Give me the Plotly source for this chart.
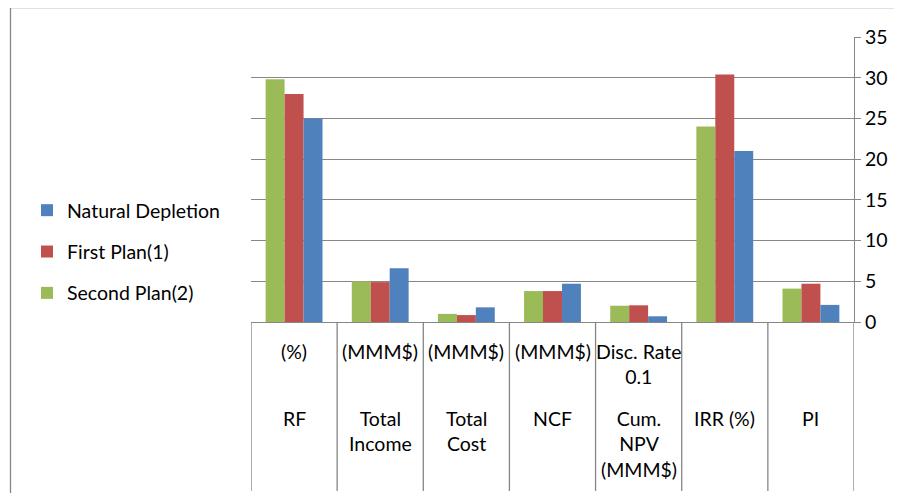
import plotly.graph_objects as go

categories = ["RF", "Total Income", "Total Cost", "NCF", "Cum. NPV", "IRR (%)", "PI"]
top_labels = ["(%)", "(MMM$)", "(MMM$)", "(MMM$)", "Disc. Rate<br>0.1", "", ""]
bottom_labels = ["RF", "Total<br>Income", "Total<br>Cost", "NCF", "Cum.<br>NPV<br>(MMM$)", "IRR (%)", "PI"]

second_plan = [29.8, 5.0, 1.0, 3.8, 2.0, 24.0, 4.1]
first_plan = [28.0, 4.9, 0.85, 3.8, 2.05, 30.4, 4.7]
natural = [25.0, 6.6, 1.8, 4.7, 0.7, 21.0, 2.1]

series = [
    ("Second Plan(2)", second_plan, "#9BBB59", 3),
    ("First Plan(1)", first_plan, "#C0504D", 2),
    ("Natural Depletion", natural, "#4F81BD", 1),
]

FONT = "Lato"
FS = 19.5
GRID = "#868686"

fig = go.Figure()
for i, (name, vals, col, rank) in enumerate(series):
    fig.add_trace(go.Bar(
        x=categories, y=vals, name=name,
        marker=dict(color=col, line=dict(width=0)),
        legendgroup="g%d" % i, legendrank=rank,
    ))

OFF = 8  # page body margin
W, H = 902, 493
SX0, SX1, SY0, SY1 = 251, 854, 37, 322
L = SX0 - OFF
R = W - (SX1 - OFF)
T = SY0 - OFF
B = H - (SY1 - OFF)
pw = W - L - R
ph = H - T - B

def px2x(px):
    return (px - OFF - L) / pw

def py2y(py):
    return (H - B - (py - OFF)) / ph

annotations = []
for i, (t, b) in enumerate(zip(top_labels, bottom_labels)):
    if t:
        annotations.append(dict(x=i, y=py2y(338), xref="x", yref="paper", text=t,
                                showarrow=False, yanchor="top", xanchor="center",
                                font=dict(family=FONT, size=FS, color="#000")))
    annotations.append(dict(x=i, y=py2y(405), xref="x", yref="paper", text=b,
                            showarrow=False, yanchor="top", xanchor="center",
                            font=dict(family=FONT, size=FS, color="#000")))

shapes = []
for i in range(len(categories) + 1):
    shapes.append(dict(type="line", xref="x", yref="paper", x0=i - 0.5, x1=i - 0.5,
                       y0=0, y1=py2y(491), line=dict(color=GRID, width=1.3)))
shapes.append(dict(type="rect", xref="paper", yref="paper",
                   x0=px2x(10.5), x1=px2x(920), y0=py2y(7.5), y1=py2y(530),
                   line=dict(color=GRID, width=1.3)))

fig.update_layout(
    width=W, height=H,
    margin=dict(l=L, r=R, t=T, b=B, autoexpand=False),
    paper_bgcolor="white", plot_bgcolor="white",
    barmode="group", bargap=0.34, bargroupgap=0,
    font=dict(family=FONT, size=FS, color="#000"),
    legend=dict(x=px2x(27), y=py2y(252), xanchor="left", yanchor="middle",
                traceorder="grouped", tracegroupgap=13,
                font=dict(family=FONT, size=FS, color="#000"),
                bgcolor="rgba(0,0,0,0)"),
    annotations=annotations,
    shapes=shapes,
    xaxis=dict(showticklabels=False, showgrid=False, showline=True, linecolor=GRID,
               linewidth=1.3, ticks="", zeroline=False, range=[-0.5, 6.5]),
    yaxis=dict(side="right", range=[0, 35], dtick=5, showgrid=True, gridcolor=GRID,
               gridwidth=1.3, showline=True, linecolor=GRID, linewidth=1.3,
               ticks="outside", ticklen=6, tickcolor=GRID, zeroline=False,
               tickfont=dict(family=FONT, size=FS, color="#000")),
)

fig.write_html("out.html")
